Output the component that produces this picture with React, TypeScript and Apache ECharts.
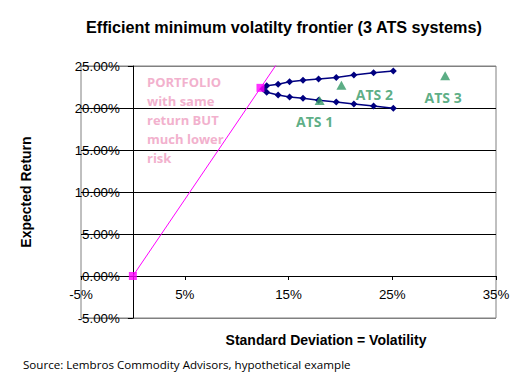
import { useEffect, useRef } from "react";
import * as echarts from "echarts";

const TITLE = "Efficient minimum volatilty frontier (3 ATS systems)";
const X_NAME = "Standard Deviation = Volatility";
const Y_NAME = "Expected Return";
const SOURCE = "Source: Lembros Commodity Advisors, hypothetical example";
const NOTE_LINES = ["PORTFOLIO", "with same", "return BUT", "much lower", "risk"];

// Efficient frontier (upper branch right->left, tip, lower branch left->right)
const frontierX = [25.1, 23.2, 21.3, 19.6, 17.9, 16.4, 15.1, 14.0, 12.9, 12.55, 12.9, 14.0, 15.1, 16.4, 17.9, 19.6, 21.3, 23.2, 25.1];
const frontierY = [24.41, 24.21, 23.93, 23.64, 23.46, 23.3, 23.13, 22.83, 22.66, 22.27, 21.87, 21.55, 21.31, 21.16, 20.92, 20.71, 20.48, 20.24, 19.96];

// Capital market line (clipped at top)
const cmlX = [0, 15];
const cmlY = [0, 27.3];

// Portfolio points
const portX = [0, 12.3];
const portY = [0, 22.4];

// ATS systems
const atsNames = ["ATS 1", "ATS 2", "ATS 3"];
const atsX = [18.0, 20.1, 30.1];
const atsY = [20.9, 22.7, 23.85];
const atsLabelOffsets = [[-5, 21], [33, 9], [-2, 22]];

const FONT = "'Liberation Sans', Arial, sans-serif";

const GRID_LEFT = 81;
const GRID_RIGHT = 25;
const GRID_TOP = 66;
const GRID_BOTTOM = 65;
const W = 521;
const H = 383;
const X_MIN = -5;
const X_MAX = 35;
const Y_MIN = -5;
const Y_MAX = 25;

export default function App() {
  const ref = useRef<HTMLDivElement>(null);
  useEffect(() => {
    if (!ref.current) return;
    const chart = echarts.init(ref.current, null, { renderer: "svg" });
    const plotW = W - GRID_LEFT - GRID_RIGHT;
    const plotH = H - GRID_TOP - GRID_BOTTOM;
    // place axes where the other axis is zero
    const yAxisOffset = -((0 - X_MIN) / (X_MAX - X_MIN)) * plotW;
    const xAxisOffset = -((0 - Y_MIN) / (Y_MAX - Y_MIN)) * plotH;
    const option: any = {
      animation: false,
      title: {
        text: TITLE,
        left: 86,
        top: 19,
        padding: 0,
        textStyle: { fontFamily: FONT, fontWeight: "bold", fontSize: 16.2, color: "#000" },
      },
      grid: {
        left: GRID_LEFT,
        right: GRID_RIGHT,
        top: GRID_TOP,
        bottom: GRID_BOTTOM,
        show: true,
        borderColor: "#808080",
        borderWidth: 1,
        containLabel: false,
        outerBoundsMode: "none",
      },
      xAxis: {
        type: "value",
        min: X_MIN,
        max: X_MAX,
        interval: 10,
        position: "bottom",
        offset: xAxisOffset,
        axisLine: { onZero: false, lineStyle: { color: "#000", width: 1 } },
        axisTick: { show: true, length: 4, lineStyle: { color: "#000" } },
        axisLabel: {
          formatter: (v: number) => `${v}%`,
          fontFamily: FONT,
          fontSize: 13.33,
          color: "#000",
          margin: 12,
        },
        splitLine: { show: false },
        name: X_NAME,
        nameLocation: "middle",
        nameGap: 57,
        nameTextStyle: {
          fontFamily: FONT,
          fontWeight: "bold",
          fontSize: 14,
          color: "#000",
          padding: [0, 0, 0, 75],
        },
      },
      yAxis: {
        type: "value",
        min: Y_MIN,
        max: Y_MAX,
        interval: 5,
        position: "left",
        offset: yAxisOffset,
        axisLine: { onZero: false, lineStyle: { color: "#000", width: 1 } },
        axisTick: { show: true, length: 5, lineStyle: { color: "#000" } },
        axisLabel: {
          formatter: (v: number) => `${v.toFixed(2)}%`,
          fontFamily: FONT,
          fontSize: 13.33,
          color: "#000",
          margin: 13,
        },
        splitLine: {
          show: true,
          lineStyle: {
            color: ["#808080", "#000", "#000", "#000", "#000", "#000", "#808080"],
            width: 1,
          },
        },
        name: Y_NAME,
        nameLocation: "middle",
        nameGap: 100,
        nameTextStyle: { fontFamily: FONT, fontWeight: "bold", fontSize: 14, color: "#000" },
      },
      graphic: [
        {
          type: "text",
          left: 147,
          top: 72,
          z: 0,
          style: {
            text: NOTE_LINES.join("\n"),
            fill: "#F2B1CD",
            font: "bold 13px 'Open Sans', sans-serif",
            lineHeight: 19,
          },
        },
        {
          type: "text",
          left: 23,
          top: 358,
          style: {
            text: SOURCE,
            fill: "#000",
            font: "11.6px 'Open Sans', sans-serif",
          },
        },
      ],
      series: [
        {
          name: "CML",
          type: "line",
          data: cmlX.map((x, i) => [x, cmlY[i]]),
          showSymbol: false,
          clip: true,
          lineStyle: { color: "#FF00FF", width: 1 },
          itemStyle: { color: "#FF00FF" },
          z: 2,
        },
        {
          name: "Frontier",
          type: "line",
          data: frontierX.map((x, i) => [x, frontierY[i]]),
          symbol: "diamond",
          symbolSize: 7,
          lineStyle: { color: "#000080", width: 1.5 },
          itemStyle: { color: "#000080" },
          z: 3,
        },
        {
          name: "Portfolio",
          type: "scatter",
          data: portX.map((x, i) => [x, portY[i]]),
          symbol: "rect",
          symbolSize: 8,
          itemStyle: { color: "#FF00FF" },
          z: 4,
        },
        {
          name: "ATS",
          type: "scatter",
          data: atsX.map((x, i) => ({
            name: atsNames[i],
            value: [x, atsY[i]],
            label: { offset: atsLabelOffsets[i] },
          })),
          symbol: "triangle",
          symbolSize: [10, 9],
          itemStyle: { color: "#339966" },
          label: {
            show: true,
            position: "inside",
            formatter: "{b}",
            color: "#339966",
            fontFamily: "'Open Sans', sans-serif",
            fontWeight: "bold",
            fontSize: 14,
          },
          z: 4,
        },
      ],
    };
    chart.setOption(option);
    return () => chart.dispose();
  }, []);
  return <div ref={ref} style={{ width: W, height: H, position: "absolute", left: 0, top: 0 }} />;
}
